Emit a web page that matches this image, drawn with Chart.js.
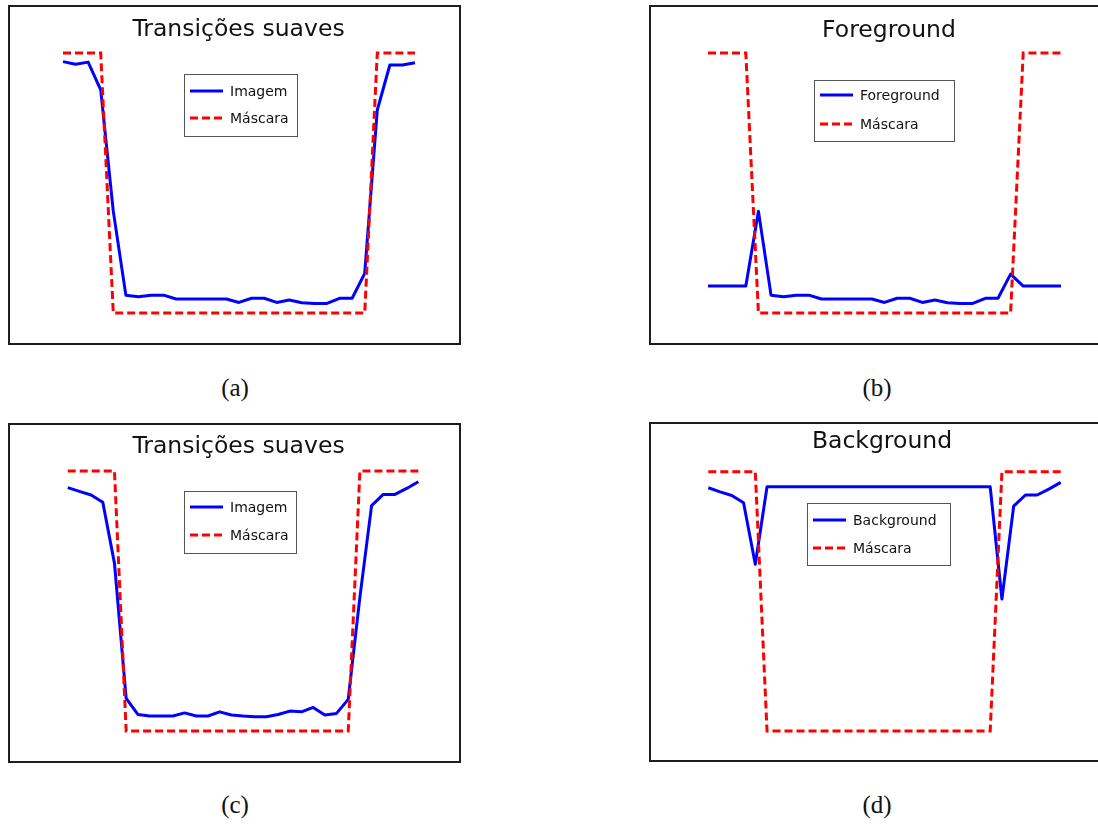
<!DOCTYPE html>
<html lang="pt">
<head>
  <meta charset="UTF-8">
  <title>Transições suaves / Foreground / Background</title>
  <script src="https://cdn.jsdelivr.net/npm/chart.js"></script>
  <style>
    body { margin: 0; width: 1098px; height: 825px; overflow: hidden; background: #fff; position: relative; }
    .panel { position: absolute; width: 453px; height: 340px; box-sizing: border-box; border: 2px solid #1e1e1e; background: #fff; }
    .panel canvas { position: absolute; left: 0; top: 0; }
    .caption { position: absolute; width: 100px; text-align: center; font-family: "Liberation Serif", "DejaVu Serif", serif; font-size: 25px; line-height: 32px; color: #111; }
  </style>
</head>
<body>
  <div class="panel" style="left:8px; top:5px;"><canvas id="chartA" width="449" height="336"></canvas></div>
  <div class="panel" style="left:649px; top:5px;"><canvas id="chartB" width="449" height="336"></canvas></div>
  <div class="panel" style="left:8px; top:423px;"><canvas id="chartC" width="449" height="336"></canvas></div>
  <div class="panel" style="left:649px; top:422px;"><canvas id="chartD" width="449" height="336"></canvas></div>

  <div class="caption" style="left:185px; top:372px;">(a)</div>
  <div class="caption" style="left:827px; top:372px;">(b)</div>
  <div class="caption" style="left:185px; top:789px;">(c)</div>
  <div class="caption" style="left:827px; top:789px;">(d)</div>

  <script>
    // sample positions (pixel index along the profile)
    const positionsAB = [0, 1, 2, 3, 4, 5, 6, 7, 8, 9, 10, 11, 12, 13, 14, 15, 16, 17, 18, 19, 20, 21, 22, 23, 24, 25, 26, 27, 28];
    const positionsCD = [0, 1, 2, 3, 4, 5, 6, 7, 8, 9, 10, 11, 12, 13, 14, 15, 16, 17, 18, 19, 20, 21, 22, 23, 24, 25, 26, 27, 28, 29, 30];

    // (a) image profile and mask
    const imageA = [0.967, 0.957, 0.965, 0.858, 0.392, 0.069, 0.063, 0.069, 0.069, 0.054, 0.054, 0.054, 0.054, 0.054, 0.041,
                    0.057, 0.057, 0.041, 0.050, 0.040, 0.037, 0.037, 0.057, 0.057, 0.153, 0.781, 0.954, 0.954, 0.963];
    const maskAB = [1, 1, 1, 1, 0, 0, 0, 0, 0, 0, 0, 0, 0, 0, 0, 0, 0, 0, 0, 0, 0, 0, 0, 0, 0, 1, 1, 1, 1];

    // (b) foreground profile
    const foregroundB = [0.104, 0.104, 0.104, 0.104, 0.392, 0.069, 0.063, 0.069, 0.069, 0.054, 0.054, 0.054, 0.054, 0.054, 0.041,
                         0.057, 0.057, 0.041, 0.050, 0.040, 0.037, 0.037, 0.057, 0.057, 0.150, 0.104, 0.104, 0.104, 0.104];

    // (c) image profile and mask
    const imageC = [0.936, 0.922, 0.908, 0.880, 0.645, 0.126, 0.064, 0.058, 0.058, 0.058, 0.070, 0.058, 0.058, 0.074, 0.062, 0.058,
                    0.055, 0.055, 0.064, 0.077, 0.074, 0.091, 0.062, 0.068, 0.122, 0.515, 0.867, 0.910, 0.910, 0.933, 0.959];
    const maskCD = [1, 1, 1, 1, 1, 0, 0, 0, 0, 0, 0, 0, 0, 0, 0, 0, 0, 0, 0, 0, 0, 0, 0, 0, 0, 1, 1, 1, 1, 1, 1];

    // (d) background profile
    const backgroundD = [0.938, 0.922, 0.908, 0.880, 0.643, 0.942, 0.942, 0.942, 0.942, 0.942, 0.942, 0.942, 0.942, 0.942, 0.942, 0.942,
                         0.942, 0.942, 0.942, 0.942, 0.942, 0.942, 0.942, 0.942, 0.942, 0.509, 0.867, 0.910, 0.910, 0.933, 0.959];

    const FONT = '"DejaVu Sans", Verdana, sans-serif';

    // title + legend box drawn inside the frame, matplotlib style
    const panelDecor = {
      id: 'panelDecor',
      afterDatasetsDraw(chart, args, opts) {
        const ctx = chart.ctx;
        ctx.save();
        ctx.fillStyle = '#111';
        ctx.font = '23.5px ' + FONT;
        ctx.textAlign = 'center';
        ctx.textBaseline = 'alphabetic';
        ctx.fillText(opts.title, opts.titleX, opts.titleY);

        const lg = opts.legend;
        ctx.fillStyle = '#fff';
        ctx.fillRect(lg.x, lg.y, lg.w, lg.h);
        ctx.strokeStyle = '#555';
        ctx.lineWidth = 1;
        ctx.strokeRect(lg.x + 0.5, lg.y + 0.5, lg.w, lg.h);

        ctx.font = '14px ' + FONT;
        ctx.textAlign = 'left';
        ctx.textBaseline = 'middle';
        lg.order.forEach((di, row) => {
          const ds = chart.data.datasets[di];
          const yy = lg.rowY[row];
          ctx.beginPath();
          ctx.strokeStyle = ds.borderColor;
          ctx.lineWidth = ds.borderWidth;
          ctx.setLineDash(ds.borderDash || []);
          ctx.moveTo(lg.x + 6, yy);
          ctx.lineTo(lg.x + 39, yy);
          ctx.stroke();
          ctx.setLineDash([]);
          ctx.fillStyle = '#111';
          ctx.fillText(ds.label, lg.x + 46, yy + 1);
        });
        ctx.restore();
      }
    };

    function makePanel(id, xs, signal, signalLabel, mask, view, decor) {
      const toPoints = (vals) => vals.map((v, i) => ({ x: xs[i], y: v }));
      return new Chart(document.getElementById(id), {
        type: 'line',
        data: {
          datasets: [
            {
              label: signalLabel,
              data: toPoints(signal),
              borderColor: '#0000ff',
              borderWidth: 3,
              borderJoinStyle: 'round',
              pointRadius: 0,
              tension: 0,
              fill: false,
              order: 2
            },
            {
              label: 'Máscara',
              data: toPoints(mask),
              borderColor: '#ff0000',
              borderWidth: 3,
              borderDash: [8, 4],
              borderCapStyle: 'butt',
              pointRadius: 0,
              tension: 0,
              fill: false,
              order: 1
            }
          ]
        },
        options: {
          responsive: false,
          animation: false,
          devicePixelRatio: 1,
          layout: { padding: 0 },
          events: [],
          scales: {
            x: { type: 'linear', display: false, min: view.xMin, max: view.xMax },
            y: { type: 'linear', display: false, min: view.yMin, max: view.yMax }
          },
          plugins: {
            legend: { display: false },
            title: { display: false },
            tooltip: { enabled: false },
            panelDecor: decor
          }
        },
        plugins: [panelDecor]
      });
    }

    makePanel('chartA', positionsAB, imageA, 'Imagem', maskAB,
      { xMin: -4.216, xMax: 31.5, yMin: -0.115, yMax: 1.177 },
      { title: 'Transições suaves', titleX: 228.5, titleY: 29,
        legend: { x: 174, y: 67, w: 113, h: 62, rowY: [84, 111], order: [0, 1] } });

    makePanel('chartB', positionsAB, foregroundB, 'Foreground', maskAB,
      { xMin: -4.52, xMax: 31.09, yMin: -0.115, yMax: 1.177 },
      { title: 'Foreground', titleX: 238, titleY: 30,
        legend: { x: 163, y: 73, w: 140, h: 61, rowY: [88, 117], order: [0, 1] } });

    makePanel('chartC', positionsCD, imageC, 'Imagem', maskCD,
      { xMin: -4.94, xMax: 33.48, yMin: -0.115, yMax: 1.177 },
      { title: 'Transições suaves', titleX: 228.5, titleY: 28,
        legend: { x: 174, y: 66, w: 112, h: 62, rowY: [82, 110], order: [0, 1] } });

    makePanel('chartD', positionsCD, backgroundD, 'Background', maskCD,
      { xMin: -4.88, xMax: 33.35, yMin: -0.112, yMax: 1.184 },
      { title: 'Background', titleX: 231, titleY: 24,
        legend: { x: 156, y: 79, w: 143, h: 62, rowY: [96, 124], order: [0, 1] } });
  </script>
</body>
</html>
